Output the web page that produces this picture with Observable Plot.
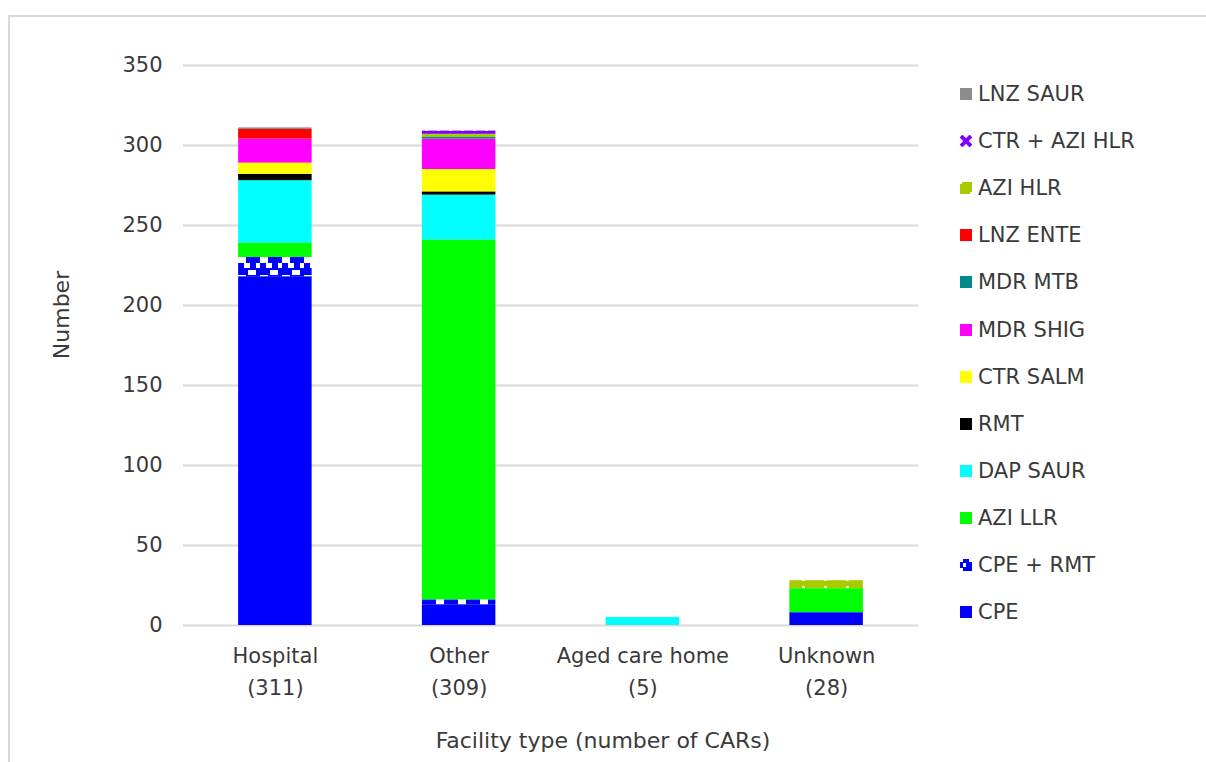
<!DOCTYPE html>
<html><head><meta charset="utf-8">
<script src="https://cdn.jsdelivr.net/npm/d3@7"></script>
<script src="https://cdn.jsdelivr.net/npm/@observablehq/plot@0.6"></script>
<style>
body{margin:0;background:#fff;font-family:"DejaVu Sans",sans-serif;color:#3a3a3a;}
#wrap{position:relative;width:1206px;height:762px;overflow:hidden;background:#fff;}
#frame{position:absolute;left:8px;top:15px;width:1210px;height:760px;border-top:2px solid #d9d9d9;border-left:2px solid #d9d9d9;}
#chart{position:absolute;left:0;top:0;}
#ylab{position:absolute;left:61px;top:315px;transform:translate(-50%,-50%) rotate(-90deg);font-size:22px;white-space:nowrap;}
#xlab{position:absolute;left:603px;top:740px;transform:translate(-50%,-50%);font-size:22px;white-space:nowrap;}
.lg{position:absolute;left:960px;height:26px;display:flex;align-items:center;font-size:21px;white-space:nowrap;}
.lg svg{margin-right:6px;}
</style></head>
<body>
<svg width="0" height="0" style="position:absolute">
  <defs>
    <pattern id="pCpeRmt" patternUnits="userSpaceOnUse" x="238" y="0" width="22" height="18">
      <rect width="22" height="18" fill="#0000ff"/>
      <rect x="10" y="0" width="8" height="5" fill="#ffffff"/>
      <rect x="0" y="5" width="8" height="6" fill="#ffffff"/>
      <rect x="18" y="11" width="4" height="5" fill="#ffffff"/>
      <rect x="6" y="11" width="6" height="5" fill="#ffffff"/>
    </pattern>
    <pattern id="pAziHlr" patternUnits="userSpaceOnUse" width="22" height="8">
      <rect width="22" height="8" fill="#a6cc00"/>
      <rect x="10" y="2" width="3" height="3" fill="#e6f0b8"/>
    </pattern>
    <pattern id="pCtrAzi" patternUnits="userSpaceOnUse" width="12" height="6">
      <rect width="12" height="6" fill="#7f00ff"/>
      <rect x="5" y="3" width="3" height="2" fill="#e8dcff"/>
    </pattern>
  </defs>
</svg>
<div id="wrap">
  <div id="frame"></div>
  <div id="chart"></div>
  <div id="ylab">Number</div>
  <div id="xlab">Facility type (number of CARs)</div>
  <div id="legend"></div>
</div>
<script>
const categories = ["Hospital", "Other", "Aged care home", "Unknown"];
const categoryTotals = [311, 309, 5, 28];
const seriesNames = ["CPE", "CPE + RMT", "AZI LLR", "DAP SAUR", "RMT", "CTR SALM", "MDR SHIG", "MDR MTB", "LNZ ENTE", "AZI HLR", "CTR + AZI HLR", "LNZ SAUR"];
const seriesFills = ["#0000ff", "url(#pCpeRmt)", "#00ff00", "#00ffff", "#000000", "#ffff00", "#ff00ff", "#008b8b", "#ff0000", "url(#pAziHlr)", "url(#pCtrAzi)", "#8c8c8c"];
const cpe       = [218, 13, 0, 8];
const cpeRmt    = [12, 3, 0, 0];
const aziLlr    = [9, 225, 0, 15];
const dapSaur   = [39, 28, 5, 0];
const rmt       = [4, 2, 0, 0];
const ctrSalm   = [7, 14, 0, 0];
const mdrShig   = [15, 19, 0, 0];
const mdrMtb    = [0, 1, 0, 0];
const lnzEnte   = [6, 0, 0, 0];
const aziHlr    = [0, 2, 0, 5];
const ctrAziHlr = [0, 2, 0, 0];
const lnzSaur   = [1, 0, 0, 0];
const yTicks = [0, 50, 100, 150, 200, 250, 300, 350];

const seriesValues = [cpe, cpeRmt, aziLlr, dapSaur, rmt, ctrSalm, mdrShig, mdrMtb, lnzEnte, aziHlr, ctrAziHlr, lnzSaur];
const rows = [];
seriesNames.forEach((s, si) => {
  categories.forEach((c, ci) => {
    const v = seriesValues[si][ci];
    if (v > 0) rows.push({category: c, series: s, value: v});
  });
});
const totalOf = new Map(categories.map((c, i) => [c, categoryTotals[i]]));

const plot = Plot.plot({
  width: 940,
  height: 762,
  marginTop: 65,
  marginBottom: 137,
  marginLeft: 183,
  marginRight: 22,
  style: {fontFamily: "DejaVu Sans, sans-serif", fontSize: "21px", color: "#3a3a3a", background: "transparent", overflow: "visible"},
  x: {domain: categories, paddingInner: 0.6, paddingOuter: 0.3, round: false, label: null},
  y: {domain: [0, 350], label: null},
  color: {domain: seriesNames, range: seriesFills},
  marks: [
    Plot.gridY(yTicks, {stroke: "#d9d9d9", strokeOpacity: 1, strokeWidth: 2}),
    Plot.barY(rows, {x: "category", y: "value", fill: "series", order: seriesNames}),
    Plot.axisY(yTicks, {tickSize: 0, tickPadding: 21, label: null, fontSize: 21}),
    Plot.axisX({tickSize: 0, tickPadding: 14, label: null, fontSize: 21, lineHeight: 1.55,
      tickFormat: d => `${d}\n(${totalOf.get(d)})`})
  ]
});
document.getElementById("chart").appendChild(plot);

// legend
const icons = {
  "CPE + RMT": `<svg width="12" height="12"><rect width="12" height="12" fill="#0000ff"/><rect x="0" y="0" width="3" height="3" fill="#fff"/><rect x="9" y="0" width="3" height="3" fill="#fff"/><rect x="0" y="9" width="3" height="3" fill="#fff"/><rect x="3" y="4" width="3" height="4" fill="#fff"/></svg>`,
  "AZI HLR": `<svg width="12" height="12"><rect width="12" height="12" fill="#a6cc00"/><rect x="0" y="0" width="2" height="2" fill="#fff"/><rect x="10" y="10" width="2" height="2" fill="#fff"/></svg>`,
  "CTR + AZI HLR": `<svg width="12" height="12"><path d="M1,1 L11,11 M11,1 L1,11" stroke="#7f00ff" stroke-width="4"/></svg>`
};
const legend = document.getElementById("legend");
const rev = seriesNames.slice().reverse();
rev.forEach((s, i) => {
  const cy = 94 + i * 47.1;
  const el = document.createElement("div");
  el.className = "lg";
  el.style.top = (cy - 13) + "px";
  const fill = seriesFills[seriesNames.indexOf(s)];
  const icon = icons[s] || `<svg width="12" height="12"><rect width="12" height="12" fill="${fill}"/></svg>`;
  el.innerHTML = icon + `<span>${s}</span>`;
  legend.appendChild(el);
});
</script>
</body></html>
